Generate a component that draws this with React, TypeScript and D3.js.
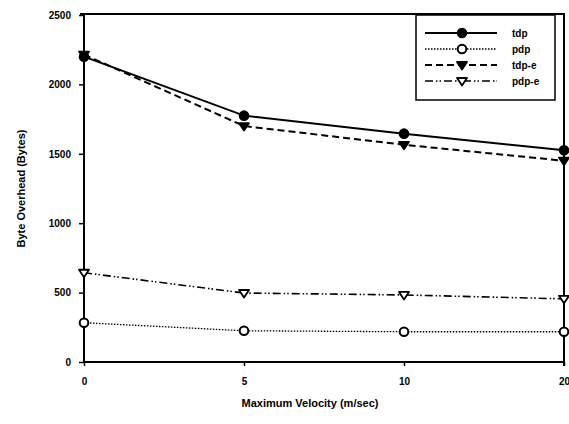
import React, { useEffect, useRef } from "react";
import * as d3 from "d3";

const categories = ["0", "5", "10", "20"];
const yTicks = [0, 500, 1000, 1500, 2000, 2500];
const tdp = [2200, 1775, 1645, 1525];
const pdp = [283, 225, 218, 218];
const tdpE = [2215, 1700, 1565, 1450];
const pdpE = [643, 497, 483, 455];

const seriesNames = ["tdp", "pdp", "tdp-e", "pdp-e"];
const seriesValues = [tdp, pdp, tdpE, pdpE];

const W = 569, H = 424;
const L = 84, R = 564, T = 15, B = 362;
const FONT = "'Liberation Sans', Arial, sans-serif";

const styles = [
  { dash: "", width: 2, marker: "circle", fill: "#000" },
  { dash: "1.5,1.5", width: 1.3, marker: "circle", fill: "#fff" },
  { dash: "7,4", width: 2, marker: "tri", fill: "#000" },
  { dash: "8,3,1.5,2,1.5,3", width: 1.6, marker: "tri", fill: "#fff" },
];

function drawMarker(g: any, kind: string, fill: string, x: number, y: number) {
  if (kind === "circle") {
    g.append("circle").attr("cx", x).attr("cy", y).attr("r", 4.3)
      .attr("fill", fill).attr("stroke", "#000").attr("stroke-width", 2);
  } else {
    const s = 5;
    g.append("path")
      .attr("d", `M${x - s},${y - s * 0.6}L${x + s},${y - s * 0.6}L${x},${y + s * 0.9}Z`)
      .attr("fill", fill).attr("stroke", "#000").attr("stroke-width", 1.8)
      .attr("stroke-linejoin", "round");
  }
}

export default function App() {
  const ref = useRef<SVGSVGElement>(null);
  useEffect(() => {
    const svg = d3.select(ref.current);
    svg.selectAll("*").remove();
    const x = d3.scalePoint<string>().domain(categories).range([L, R]).padding(0);
    const y = d3.scaleLinear().domain([0, 2500]).range([B, T]);

    svg.append("rect").attr("width", W).attr("height", H).attr("fill", "#fff");

    // frame
    svg.append("line").attr("x1", L - 4).attr("x2", R + 1).attr("y1", T - 1).attr("y2", T - 1)
      .attr("stroke", "#000").attr("stroke-width", 2);
    svg.append("line").attr("x1", R).attr("x2", R).attr("y1", T - 1).attr("y2", B + 4)
      .attr("stroke", "#000").attr("stroke-width", 2);

    // axes
    const yAxis = d3.axisLeft(y).tickValues(yTicks).tickSize(5).tickPadding(8).tickFormat(d3.format("d"));
    const gy = svg.append("g").attr("transform", `translate(${L},0)`).call(yAxis);
    const xAxis = d3.axisBottom(x).tickSize(4).tickPadding(12);
    const gx = svg.append("g").attr("transform", `translate(0,${B})`).call(xAxis);
    [gy, gx].forEach((g) => {
      g.select(".domain").attr("stroke", "#000").attr("stroke-width", 2);
      g.selectAll(".tick line").attr("stroke", "#000").attr("stroke-width", 1.5);
      g.selectAll(".tick text").attr("fill", "#000").style("font-family", FONT)
        .style("font-size", "10px").style("font-weight", "bold");
    });
    gx.select(".domain").attr("d", `M${L},0H${R}`);
    gy.select(".domain").attr("d", `M0,${B}V${T - 1}`);

    // series
    const line = d3.line<number>().x((_, i) => x(categories[i]) as number).y((d) => y(d));
    seriesValues.forEach((vals, si) => {
      const st = styles[si];
      svg.append("path").attr("d", line(vals)).attr("fill", "none").attr("stroke", "#000")
        .attr("stroke-width", st.width).attr("stroke-dasharray", st.dash);
    });
    seriesValues.forEach((vals, si) => {
      const st = styles[si];
      const g = svg.append("g");
      vals.forEach((v, i) => drawMarker(g, st.marker, st.fill, x(categories[i]) as number, y(v)));
    });

    // legend
    const lg = svg.append("g");
    lg.append("rect").attr("x", 416).attr("y", 15).attr("width", 139).attr("height", 85)
      .attr("fill", "#fff").attr("stroke", "#000").attr("stroke-width", 1.5);
    seriesNames.forEach((name, si) => {
      const st = styles[si];
      const yy = 33 + si * 16;
      lg.append("line").attr("x1", 425).attr("x2", 497).attr("y1", yy).attr("y2", yy)
        .attr("stroke", "#000").attr("stroke-width", st.width).attr("stroke-dasharray", st.dash);
      drawMarker(lg, st.marker, st.fill, 462, yy);
      lg.append("text").attr("x", 512).attr("y", yy).attr("dy", "0.35em").text(name)
        .style("font-family", FONT).style("font-size", "10px").style("font-weight", "bold");
    });

    // axis titles
    svg.append("text").attr("x", (L + R) / 2 - 14).attr("y", 407).attr("text-anchor", "middle")
      .text("Maximum Velocity (m/sec)").style("font-family", FONT).style("font-size", "11px")
      .style("font-weight", "bold");
    svg.append("text").attr("transform", `translate(25,${(T + B) / 2}) rotate(-90)`)
      .attr("text-anchor", "middle").text("Byte Overhead (Bytes)").style("font-family", FONT)
      .style("font-size", "11px").style("font-weight", "bold");
  }, []);
  return (
    <svg ref={ref} width={W} height={H} style={{ position: "absolute", left: 0, top: 0 }} />
  );
}
